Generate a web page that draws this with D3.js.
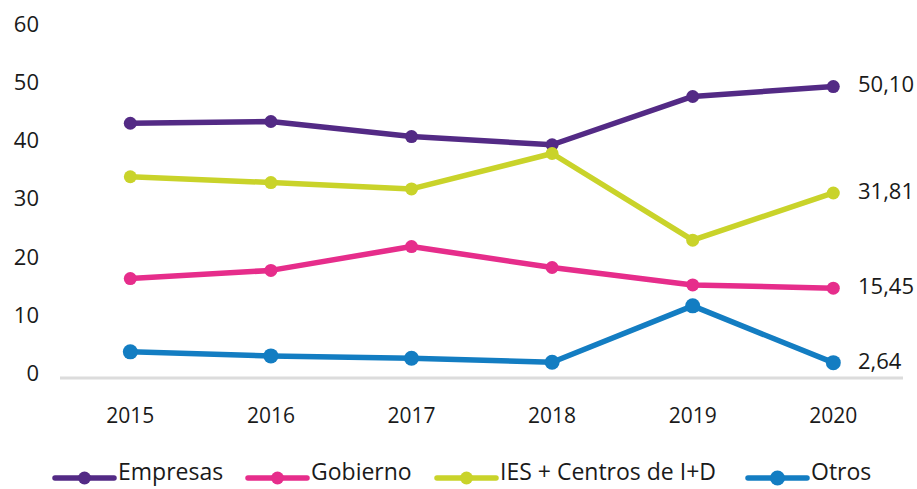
<!DOCTYPE html>
<html>
<head>
<meta charset="utf-8">
<script src="https://cdn.jsdelivr.net/npm/d3@7"></script>
<style>
  html, body { margin: 0; padding: 0; background: #fff; }
  svg { display: block; font-family: "Open Sans", sans-serif; }
</style>
</head>
<body>
<svg id="chart" width="917" height="489"></svg>
<script>
const years = ["2015", "2016", "2017", "2018", "2019", "2020"];
const seriesNames = ["Empresas", "Gobierno", "IES + Centros de I+D", "Otros"];
const empresas = [43.8, 44.1, 41.5, 40.1, 48.4, 50.10];
const gobierno = [17.1, 18.5, 22.6, 19.0, 16.0, 15.45];
const ies = [34.6, 33.6, 32.5, 38.6, 23.7, 31.81];
const otros = [4.5, 3.8, 3.4, 2.7, 12.4, 2.64];
const endLabels = ["50,10", "15,45", "31,81", "2,64"];
const colors = ["#532a85", "#e62d8b", "#c9d32a", "#137dc2"];
const yTicks = [0, 10, 20, 30, 40, 50, 60];

const data = [empresas, gobierno, ies, otros];
const radii = [6.5, 6.5, 6.5, 7.5];

const svg = d3.select("#chart");
const x = d3.scalePoint().domain(years).range([130.3, 833.3]);
const y = d3.scaleLinear().domain([0, 60]).range([378, 29]);

// baseline
svg.append("line")
  .attr("x1", 60).attr("x2", 903)
  .attr("y1", y(0)).attr("y2", y(0))
  .attr("stroke", "#dcdcdc").attr("stroke-width", 3);

// y tick labels
svg.append("g").selectAll("text").data(yTicks).join("text")
  .attr("x", 39).attr("y", d => y(d) - 3)
  .attr("text-anchor", "end").attr("dominant-baseline", "middle")
  .attr("font-size", 22).attr("fill", "#1a1a1a")
  .text(d => d);

// x labels
svg.append("g").selectAll("text").data(years).join("text")
  .attr("x", d => x(d)).attr("y", 423)
  .attr("text-anchor", "middle")
  .attr("font-size", 21).attr("fill", "#1a1a1a")
  .text(d => d);

const line = d3.line().x((d, i) => x(years[i])).y(d => y(d));

data.forEach((vals, s) => {
  const g = svg.append("g");
  g.append("path").datum(vals)
    .attr("d", line).attr("fill", "none")
    .attr("stroke", colors[s]).attr("stroke-width", 5.5)
    .attr("stroke-linejoin", "round");
  g.selectAll("circle").data(vals).join("circle")
    .attr("cx", (d, i) => x(years[i])).attr("cy", d => y(d))
    .attr("r", radii[s]).attr("fill", colors[s]);
  g.append("text")
    .attr("x", 858).attr("y", y(vals[vals.length - 1]))
    .attr("dominant-baseline", "middle")
    .attr("font-size", 22).attr("fill", "#1a1a1a")
    .text(endLabels[s]);
});

// legend
const legendX = [55, 248, 437, 748];
const leg = svg.append("g");
seriesNames.forEach((name, s) => {
  const lx = legendX[s], ly = 478;
  leg.append("line")
    .attr("x1", lx).attr("x2", lx + 59).attr("y1", ly).attr("y2", ly)
    .attr("stroke", colors[s]).attr("stroke-width", 5.5).attr("stroke-linecap", "round");
  leg.append("circle").attr("cx", lx + 29.5).attr("cy", ly).attr("r", radii[s]).attr("fill", colors[s]);
  leg.append("text")
    .attr("x", lx + 63).attr("y", ly - 4)
    .attr("dominant-baseline", "middle")
    .attr("font-size", 23).attr("fill", "#1a1a1a")
    .text(name);
});
</script>
</body>
</html>
